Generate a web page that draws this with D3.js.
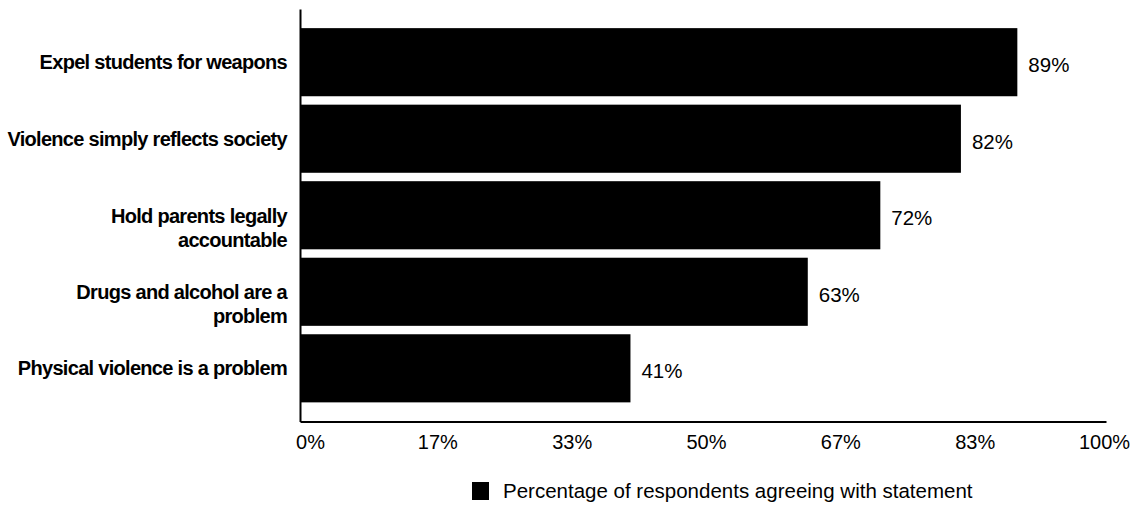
<!DOCTYPE html>
<html>
<head>
<meta charset="utf-8">
<script src="https://cdn.jsdelivr.net/npm/d3@7"></script>
<style>
  html, body { margin: 0; padding: 0; background: #fff; }
  svg { display: block; }
  text { font-family: "Liberation Sans", Arial, sans-serif; fill: #000; }
</style>
</head>
<body>
<svg id="chart" width="1140" height="505"></svg>
<script>
// Survey statements, top to bottom, with the label lines used on the axis
const categories = [
  "Expel students for weapons",
  "Violence simply reflects society",
  "Hold parents legally accountable",
  "Drugs and alcohol are a problem",
  "Physical violence is a problem"
];
const categoryLines = [
  ["Expel students for weapons"],
  ["Violence simply reflects society"],
  ["Hold parents legally", "accountable"],
  ["Drugs and alcohol are a", "problem"],
  ["Physical violence is a problem"]
];
// Share of respondents agreeing (fraction)
const values = [0.89, 0.82, 0.72, 0.63, 0.41];
const valueLabels = ["89%", "82%", "72%", "63%", "41%"];
// Horizontal axis ticks at sixths
const tickValues = [0, 1 / 6, 2 / 6, 3 / 6, 4 / 6, 5 / 6, 1];
const tickLabels = ["0%", "17%", "33%", "50%", "67%", "83%", "100%"];
const seriesName = "Percentage of respondents agreeing with statement";

const svg = d3.select("#chart");

const plot = { left: 300, right: 1106, top: 9, bottom: 421.5 };

const x = d3.scaleLinear().domain([0, 1]).range([plot.left, plot.right]);
const y = d3.scaleBand()
  .domain(categories)
  .range([plot.top, plot.bottom])
  .paddingInner(0.11)
  .paddingOuter(0.25);

// Bars
svg.append("g")
  .selectAll("rect")
  .data(categories)
  .join("rect")
  .attr("x", x(0))
  .attr("y", d => y(d))
  .attr("width", (d, i) => x(values[i]) - x(0))
  .attr("height", y.bandwidth())
  .attr("fill", "#000");

// Value labels at the end of each bar
svg.append("g")
  .selectAll("text")
  .data(categories)
  .join("text")
  .attr("x", (d, i) => x(values[i]) + 11)
  .attr("y", d => y(d) + y.bandwidth() / 2 + 10)
  .attr("font-size", "20.5px")
  .text((d, i) => valueLabels[i]);

// Bottom axis
const xAxis = d3.axisBottom(x)
  .tickValues(tickValues)
  .tickFormat((d, i) => tickLabels[i])
  .tickSizeInner(0)
  .tickSizeOuter(0)
  .tickPadding(13);

const gx = svg.append("g")
  .attr("transform", `translate(0,${plot.bottom})`)
  .call(xAxis);
gx.select(".domain").attr("stroke", "#000").attr("stroke-width", 2);
const lastTick = tickValues.length - 1;
gx.selectAll(".tick text")
  .attr("font-family", "Liberation Sans, Arial, sans-serif")
  .attr("font-size", "20px")
  .attr("fill", "#000")
  .attr("dx", (d, i) => i === 0 ? 10 : i === lastTick ? -2 : 3);

// Left axis with category labels
const yAxis = d3.axisLeft(y)
  .tickSizeInner(0)
  .tickSizeOuter(0)
  .tickPadding(13)
  .tickFormat("");

const gy = svg.append("g")
  .attr("transform", `translate(${plot.left},0)`)
  .call(yAxis);
gy.select(".domain").attr("stroke", "#000").attr("stroke-width", 2);

gy.selectAll(".tick").each(function (d, i) {
  const lines = categoryLines[i];
  const t = d3.select(this).select("text")
    .attr("font-family", "Liberation Sans, Arial, sans-serif")
    .attr("font-size", "20px")
    .attr("font-weight", "bold")
    .attr("letter-spacing", "-0.7px")
    .attr("fill", "#000")
    .attr("dy", null)
    .attr("text-anchor", "end");
  const firstBaseline = lines.length > 1 ? 7.5 : 7;
  lines.forEach((line, k) => {
    t.append("tspan")
      .attr("x", -13)
      .attr("y", firstBaseline + k * 24)
      .text(line);
  });
});

// Legend
const legend = svg.append("g").attr("transform", "translate(472,482)");
legend.append("rect")
  .attr("width", 17)
  .attr("height", 18)
  .attr("fill", "#000");
legend.append("text")
  .attr("x", 31)
  .attr("y", 16)
  .attr("font-size", "20.5px")
  .text(seriesName);
</script>
</body>
</html>
